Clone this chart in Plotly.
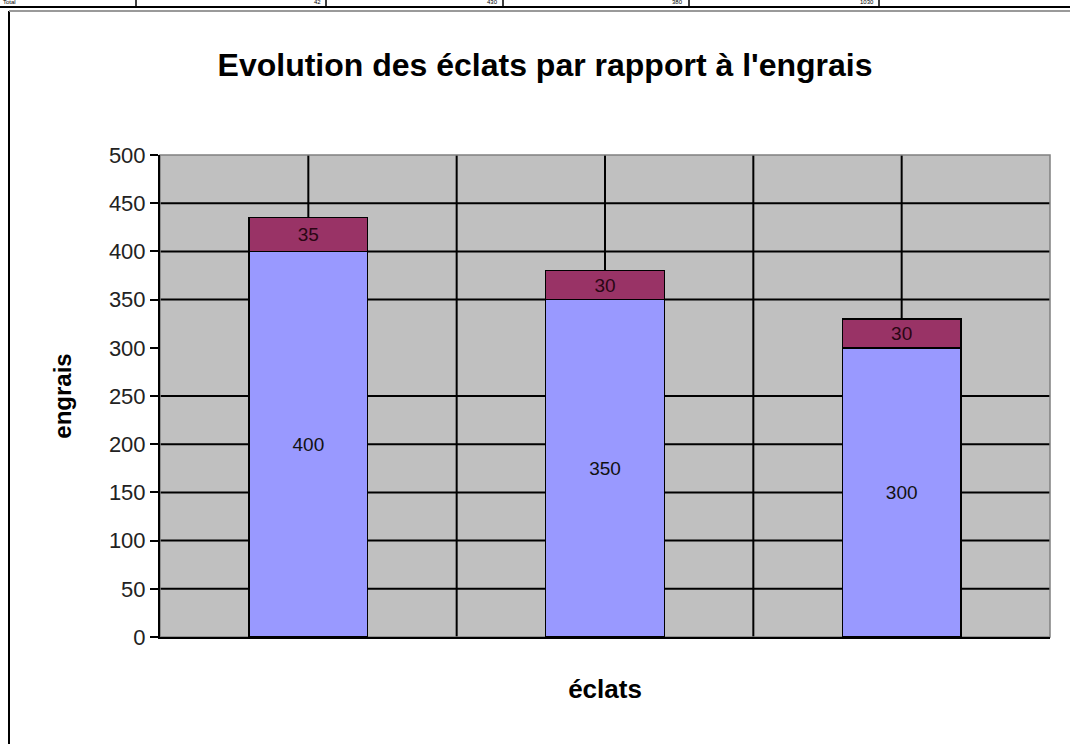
import plotly.graph_objects as go

# data
categories = ["A", "B", "C"]
engrais = [400, 350, 300]
eclats = [35, 30, 30]
y_ticks = [0, 50, 100, 150, 200, 250, 300, 350, 400, 450, 500]
grid_values = [50, 100, 150, 200, 250, 350, 400, 450]  # the 300 line is absent in the original
table_cells = ["Total", "42", "430", "380", "1030"]

W, H = 1070, 744
L, R, T, B = 160, 1050, 155, 637


def px(x):
    return (x - L) / (R - L)


def py(y):
    return (B - y) / (B - T)


fig = go.Figure()
fig.add_trace(go.Bar(
    x=categories, y=engrais, width=0.4,
    marker=dict(color="#9999FF", line=dict(color="black", width=1.5)),
    text=engrais, textposition="inside", insidetextanchor="middle",
    textfont=dict(color="#111111", size=19, family="Liberation Sans"),
    constraintext="none", textangle=0,
))
fig.add_trace(go.Bar(
    x=categories, y=eclats, width=0.4,
    marker=dict(color="#993366", line=dict(color="black", width=1.5)),
    text=eclats, textposition="inside", insidetextanchor="middle",
    textfont=dict(color="#2a0614", size=19, family="Liberation Sans"),
    constraintext="none", textangle=0,
))

shapes = []
# horizontal grid lines
for v in grid_values:
    shapes.append(dict(type="line", xref="paper", yref="y", x0=0, x1=1, y0=v, y1=v,
                       line=dict(color="black", width=2), layer="below"))
# vertical grid lines at category centres and boundaries
for v in [0, 0.5, 1, 1.5, 2]:
    shapes.append(dict(type="line", xref="x", yref="paper", x0=v, x1=v, y0=0, y1=1,
                       line=dict(color="black", width=2), layer="below"))
# plot border (top/right grey)
shapes.append(dict(type="rect", xref="paper", yref="paper", x0=0, x1=1, y0=0, y1=1,
                   line=dict(color="#808080", width=1.5), layer="below"))
# outer chart frame
shapes.append(dict(type="line", xref="paper", yref="paper", x0=px(9), x1=px(9),
                   y0=py(11), y1=py(760), line=dict(color="black", width=2)))
shapes.append(dict(type="line", xref="paper", yref="paper", x0=px(9), x1=px(1080),
                   y0=py(11), y1=py(11), line=dict(color="#9a9a9a", width=2)))
# table row on top of the page
shapes.append(dict(type="line", xref="paper", yref="paper", x0=px(-5), x1=px(1080),
                   y0=py(7), y1=py(7), line=dict(color="black", width=2)))
for xv in [136, 326, 503, 689, 879]:
    shapes.append(dict(type="line", xref="paper", yref="paper", x0=px(xv), x1=px(xv),
                       y0=py(-5), y1=py(6), line=dict(color="black", width=1.5)))

annotations = []
cell_right = [None, 322, 499, 684, 875]
for i, t in enumerate(table_cells):
    xa = px(2) if i == 0 else px(cell_right[i])
    annotations.append(dict(text=t, xref="paper", yref="paper", x=xa, y=py(6),
                            xanchor="left" if i == 0 else "right", yanchor="bottom",
                            showarrow=False, borderpad=0,
                            font=dict(size=6, color="black", family="Liberation Sans")))

fig.update_layout(
    width=W, height=H,
    margin=dict(l=L, r=W - R, t=T, b=H - B, autoexpand=False),
    barmode="stack",
    showlegend=False,
    paper_bgcolor="white",
    plot_bgcolor="#C0C0C0",
    bargap=0.6,
    title=dict(text="<b>Evolution des éclats par rapport à l'engrais</b>",
               x=545 / W, xanchor="center", y=1 - 65 / H, yanchor="middle",
               font=dict(size=32, color="black", family="Liberation Sans")),
    shapes=shapes,
    annotations=annotations,
)
fig.update_xaxes(
    showticklabels=False, showgrid=False, zeroline=False, ticks="",
    range=[-0.5, 2.5],
    showline=True, linecolor="black", linewidth=2,
    title=dict(text="<b>éclats</b>", standoff=42,
               font=dict(size=26, color="black", family="Liberation Sans")),
)
fig.update_yaxes(
    range=[0, 500], tickvals=y_ticks, showgrid=False, zeroline=False,
    showline=True, linecolor="black", linewidth=2,
    ticks="outside", ticklen=8, tickcolor="black", tickwidth=2,
    tickfont=dict(size=22, color="#222222", family="Liberation Sans"),
    title=dict(text="<b>engrais</b>", standoff=30,
               font=dict(size=24, color="black", family="Liberation Sans")),
)

fig.write_html("out.html", config={"displayModeBar": False},
               post_script="document.body.style.margin='0';")
